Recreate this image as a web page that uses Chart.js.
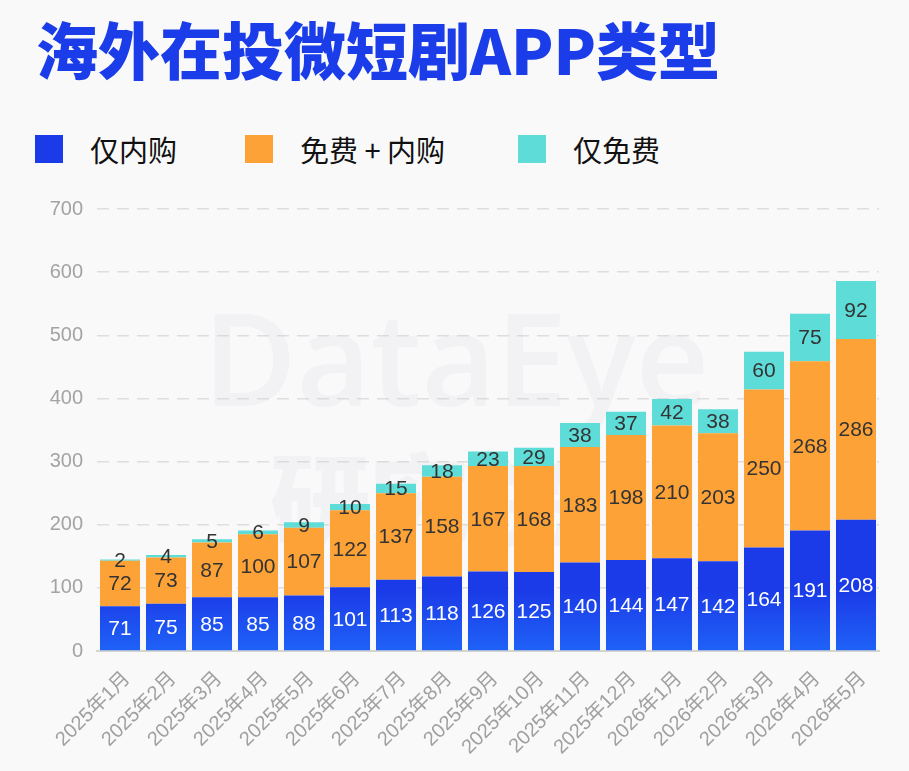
<!DOCTYPE html>
<html>
<head>
<meta charset="utf-8">
<script src="https://cdn.jsdelivr.net/npm/chart.js@4.4.1/dist/chart.umd.min.js"></script>
<style>
  html, body { margin: 0; padding: 0; background: #f9f9fa; }
  body { width: 909px; height: 771px; position: relative; overflow: hidden; font-family: "Noto Sans CJK SC", "Noto Sans", sans-serif; }
  #title { position: absolute; left: 36px; top: 11px; font-size: 62px; font-weight: 900; color: #1b3de9; line-height: 74px; white-space: nowrap; letter-spacing: 0px; }
  #legend { position: absolute; left: 35px; top: 129px; height: 40px; }
  .item { position: absolute; top: 0; height: 40px; display: flex; align-items: center; white-space: nowrap; font-size: 29px; color: #111; }
  .sw { width: 28px; height: 28px; margin-right: 27px; }
  #wrap { position: absolute; left: 0; top: 180px; width: 909px; height: 591px; }
</style>
</head>
<body>
<div id="title">海外在投微短剧APP类型</div>
<div id="legend"></div>
<div id="wrap"><canvas id="c"></canvas></div>
<script>
const categories = ["2025年1月","2025年2月","2025年3月","2025年4月","2025年5月","2025年6月","2025年7月","2025年8月","2025年9月","2025年10月","2025年11月","2025年12月","2026年1月","2026年2月","2026年3月","2026年4月","2026年5月"];
const seriesNames = ["仅内购","免费 + 内购","仅免费"];
const inAppOnly = [71,75,85,85,88,101,113,118,126,125,140,144,147,142,164,191,208];
const freePlusInApp = [72,73,87,100,107,122,137,158,167,168,183,198,210,203,250,268,286];
const freeOnly = [2,4,5,6,9,10,15,18,23,29,38,37,42,38,60,75,92];
const yTicks = [0,100,200,300,400,500,600,700];

const colors = ["#1b3be8", "#fda237", "#5edcd8"];
const labelColors = ["#ffffff", "#333333", "#333333"];

// HTML legend
const legendPos = [0, 210, 483];
const legend = document.getElementById('legend');
seriesNames.forEach((n, i) => {
  const d = document.createElement('div');
  d.className = 'item';
  d.style.left = legendPos[i] + 'px';
  d.innerHTML = '<div class="sw" style="background:' + colors[i] + '"></div><span>' + n + '</span>';
  legend.appendChild(d);
});

function blueGradient(ctx) {
  const chart = ctx.chart;
  const area = chart.chartArea;
  if (!area) return colors[0];
  const g = chart.ctx.createLinearGradient(0, area.bottom, 0, area.bottom - 60);
  g.addColorStop(0, "#1f62f7");
  g.addColorStop(1, "#1b3be8");
  return g;
}

const labelPlugin = {
  id: 'segLabels',
  afterDatasetsDraw(chart) {
    const ctx = chart.ctx;
    ctx.save();
    ctx.font = '21px "Liberation Sans", Arial, sans-serif';
    ctx.textAlign = 'center';
    ctx.textBaseline = 'middle';
    chart.data.datasets.forEach((ds, di) => {
      const meta = chart.getDatasetMeta(di);
      meta.data.forEach((el, i) => {
        const p = el.getProps(['x', 'y', 'base'], true);
        const cy = (p.y + p.base) / 2;
        ctx.fillStyle = labelColors[di];
        ctx.fillText(String(ds.data[i]), p.x, cy + 1);
      });
    });
    ctx.restore();
  }
};

const watermark = {
  id: 'watermark',
  beforeDatasetsDraw(chart) {
    const ctx = chart.ctx;
    ctx.save();
    ctx.fillStyle = 'rgba(205,208,218,0.16)';
    ctx.textAlign = 'center';
    ctx.textBaseline = 'middle';
    ctx.font = '600 128px "Open Sans", sans-serif';
    ctx.fillText('DataEye', 456, 190);
    ctx.font = '900 100px "Noto Sans CJK SC", sans-serif';
    ctx.fillText('研究院', 420, 320);
    ctx.restore();
  }
};

new Chart(document.getElementById('c'), {
  type: 'bar',
  data: {
    labels: categories,
    datasets: [
      { label: seriesNames[0], data: inAppOnly, backgroundColor: blueGradient },
      { label: seriesNames[1], data: freePlusInApp, backgroundColor: colors[1] },
      { label: seriesNames[2], data: freeOnly, backgroundColor: colors[2] }
    ]
  },
  options: {
    responsive: true,
    maintainAspectRatio: false,
    animation: false,
    devicePixelRatio: 1,
    layout: { padding: { left: 0, right: 30, top: 29, bottom: 0 } },
    datasets: { bar: { barPercentage: 0.87, categoryPercentage: 1.0, borderWidth: 0 } },
    plugins: {
      legend: { display: false },
      tooltip: { enabled: false }
    },
    scales: {
      x: {
        stacked: true,
        grid: { display: false, drawTicks: false },
        border: { display: true, color: '#d4d4d4', width: 2 },
        ticks: {
          color: '#a0a0a0',
          font: { size: 20, family: '"Liberation Sans", "Noto Sans CJK SC", sans-serif' },
          minRotation: 45, maxRotation: 45,
          padding: 16,
          labelOffset: 7,
          autoSkip: false
        },
        afterFit(s) { s.height = 120; }
      },
      y: {
        stacked: true,
        min: 0, max: 700,
        afterBuildTicks(s) { s.ticks = yTicks.map(v => ({ value: v })); },
        grid: {
          color: (c) => c.tick && c.tick.value === 0 ? 'rgba(0,0,0,0)' : '#dedede',
          lineWidth: 1.5,
          drawTicks: false
        },
        border: { display: false, dash: [12, 8] },
        ticks: {
          color: '#a3a3a3',
          font: { size: 20, family: '"Liberation Sans", Arial, sans-serif' },
          padding: 14
        },
        afterFit(s) { s.width = 97; }
      }
    }
  },
  plugins: [watermark, labelPlugin]
});
</script>
</body>
</html>
